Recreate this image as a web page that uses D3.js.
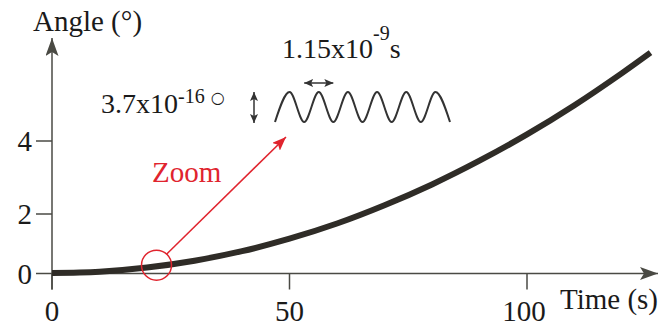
<!DOCTYPE html>
<html>
<head>
<meta charset="utf-8">
<style>
  body { margin: 0; background: #fff; }
  text { fill: #1a1a1a; }
  .red { fill: #e0242e; }
</style>
</head>
<body>
<script src="https://cdn.jsdelivr.net/npm/d3@7"></script>
<script>
// values
var times  = [0, 10, 20, 30, 40, 50, 60, 70, 80, 90, 100, 110, 120, 126];
var angles = [0.02, 0.06, 0.2, 0.43, 0.75, 1.17, 1.68, 2.24, 2.81, 3.46, 4.18, 4.98, 5.86, 6.42];
var xTicks = [0, 50, 100];
var yTicks = [0, 2, 4];
// zoomed oscillation: half-period steps (ns) and peak/trough (1e-16 deg)
var waveT = [0, 0.575, 1.15, 1.725, 2.3, 2.875, 3.45, 4.025, 4.6, 5.175, 5.75, 6.325, 6.9];
var waveA = [-1.85, 1.85, -1.85, 1.85, -1.85, 1.85, -1.85, 1.85, -1.85, 1.85, -1.85, 1.85, -1.85];
var zoomAt = 22;

var width = 672, height = 329;
var axisCol = "#4a4a44", curveCol = "#2f2c27", red = "#e0242e";
var serif = "'Liberation Serif', 'Times New Roman', 'DejaVu Serif', serif";

var svg = d3.select("body").append("svg")
    .attr("width", width)
    .attr("height", height)
    .attr("font-family", serif);

var defs = svg.append("defs");
function head(id, col, w, h, back) {
    defs.append("marker")
        .attr("id", id)
        .attr("viewBox", "0 0 " + w + " " + h)
        .attr("refX", w).attr("refY", h / 2)
        .attr("markerWidth", w).attr("markerHeight", h)
        .attr("markerUnits", "userSpaceOnUse")
        .attr("orient", "auto-start-reverse")
        .append("path")
        .attr("d", "M0,0 L" + w + "," + (h / 2) + " L0," + h + " L" + back + "," + (h / 2) + " Z")
        .attr("fill", col);
}
head("axArrow", axisCol, 18, 13, 4);
head("redArrow", red, 14, 11, 3);
head("smallArrow", "#333", 9, 8, 2);

var x = d3.scaleLinear().domain([0, 100]).range([52, 527]);
// the drawing's y axis is not evenly spaced
var y = d3.scaleLinear().domain([0, 2, 4]).range([273.5, 214, 141]);

// axes
var ax = svg.append("g").attr("stroke", axisCol).attr("stroke-width", 1.5);
ax.append("line")
    .attr("x1", x(0)).attr("x2", 658)
    .attr("y1", y(0)).attr("y2", y(0))
    .attr("marker-end", "url(#axArrow)");
ax.append("line")
    .attr("x1", x(0)).attr("x2", x(0))
    .attr("y1", y(0) + 16).attr("y2", 38)
    .attr("marker-end", "url(#axArrow)");

ax.selectAll(".xt").data(xTicks).enter().append("line")
    .attr("x1", function(d) { return x(d); })
    .attr("x2", function(d) { return x(d); })
    .attr("y1", y(0)).attr("y2", y(0) + 16);
ax.selectAll(".yt").data(yTicks).enter().append("line")
    .attr("x1", x(0) - 16).attr("x2", x(0))
    .attr("y1", function(d) { return y(d); })
    .attr("y2", function(d) { return y(d); });

svg.selectAll(".xl").data(xTicks).enter().append("text")
    .attr("x", function(d) { return x(d) - (d == 100 ? 3 : 0); })
    .attr("y", 321)
    .attr("text-anchor", "middle")
    .attr("font-size", 29)
    .text(function(d) { return d; });
svg.selectAll(".yl").data(yTicks).enter().append("text")
    .attr("x", 32)
    .attr("y", function(d) { return y(d) + 10; })
    .attr("text-anchor", "end")
    .attr("font-size", 29)
    .text(function(d) { return d; });

svg.append("text").attr("x", 33).attr("y", 31).attr("font-size", 29).text("Angle (°)");
svg.append("text").attr("x", 658).attr("y", 309).attr("text-anchor", "end")
    .attr("font-size", 29).text("Time (s)");

// main curve
var line = d3.line()
    .x(function(d, i) { return x(times[i]); })
    .y(function(d) { return y(d); })
    .curve(d3.curveCatmullRom);
svg.append("path")
    .attr("d", line(angles))
    .attr("fill", "none")
    .attr("stroke", curveCol)
    .attr("stroke-width", 6);

// zoom circle and arrow
var zx = x(zoomAt), zy = y(d3.scaleLinear().domain(times).range(angles)(zoomAt)) - 1;
svg.append("circle")
    .attr("cx", zx).attr("cy", zy).attr("r", 15)
    .attr("fill", "none").attr("stroke", red).attr("stroke-width", 1.5);
svg.append("line")
    .attr("x1", zx + 10).attr("y1", zy - 11)
    .attr("x2", 286).attr("y2", 137)
    .attr("stroke", red).attr("stroke-width", 1.5)
    .attr("marker-end", "url(#redArrow)");
svg.append("text").attr("class", "red").attr("x", 152).attr("y", 182)
    .attr("font-size", 29).text("Zoom");

// inset oscillation
var wx = d3.scaleLinear().domain([0, 6.9]).range([275, 450]);
var wy = d3.scaleLinear().domain([-1.85, 1.85]).range([122, 92]);
var wline = d3.line()
    .x(function(d, i) { return wx(waveT[i]); })
    .y(function(d) { return wy(d); })
    .curve(d3.curveMonotoneX);
svg.append("path")
    .attr("d", wline(waveA))
    .attr("fill", "none")
    .attr("stroke", "#333")
    .attr("stroke-width", 2);

// period arrow
svg.append("line")
    .attr("x1", wx(1.15)).attr("x2", wx(2.3))
    .attr("y1", 83).attr("y2", 83)
    .attr("stroke", "#333").attr("stroke-width", 1.5)
    .attr("marker-start", "url(#smallArrow)")
    .attr("marker-end", "url(#smallArrow)");
// amplitude arrow
svg.append("line")
    .attr("x1", 254).attr("x2", 254)
    .attr("y1", 92).attr("y2", 123)
    .attr("stroke", "#333").attr("stroke-width", 1.5)
    .attr("marker-start", "url(#smallArrow)")
    .attr("marker-end", "url(#smallArrow)");

var t1 = svg.append("text").attr("x", 282).attr("y", 58).attr("font-size", 28);
t1.append("tspan").text("1.15x10");
t1.append("tspan").attr("dy", -18).attr("font-size", 20).text("-9");
t1.append("tspan").attr("dy", 18).text("s");

var t2 = svg.append("text").attr("x", 101).attr("y", 113).attr("font-size", 28);
t2.append("tspan").text("3.7x10");
t2.append("tspan").attr("dy", -10).attr("font-size", 20).text("-16");
t2.append("tspan").attr("dy", 0).attr("dx", 6).attr("font-size", 16)
    .attr("font-family", "'DejaVu Sans', sans-serif").text("○");
</script>
</body>
</html>
